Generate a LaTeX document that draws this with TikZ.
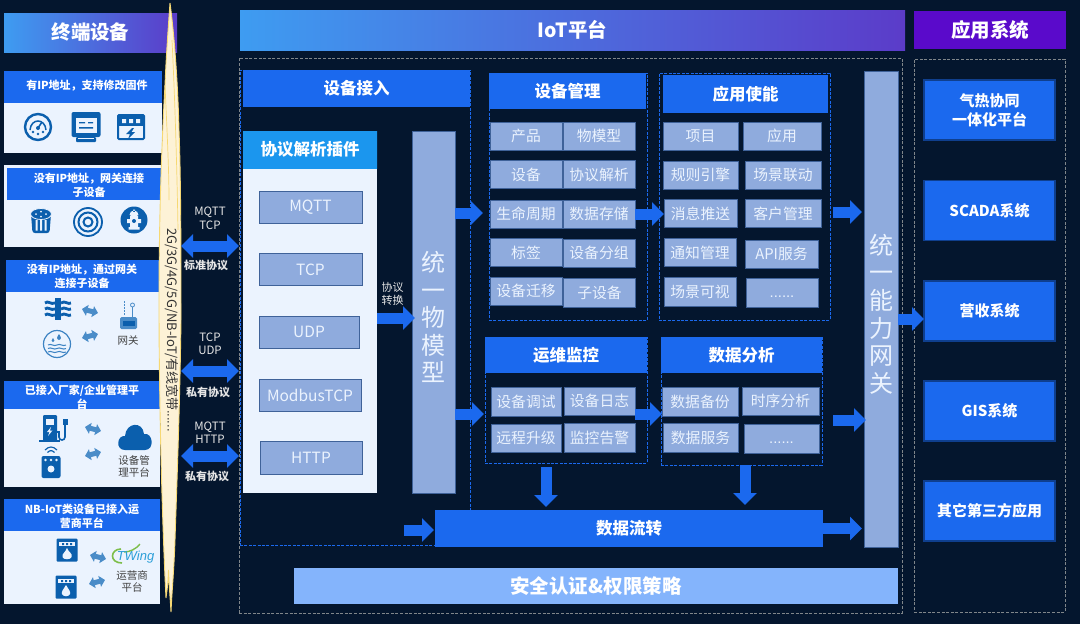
\documentclass[tikz,border=0pt]{standalone}
\usepackage{fontspec}
\usepackage{tikz}
\usetikzlibrary{arrows.meta}
\setmainfont{Noto Sans CJK SC}
\newfontfamily\dotsfont{Liberation Sans}

\definecolor{bgnavy}{HTML}{04162E}
\definecolor{mainblue}{HTML}{1B69EE}
\definecolor{cellblue}{HTML}{8FABDD}
\definecolor{celledge}{HTML}{3F6299}
\definecolor{panelwhite}{HTML}{EBF3FE}
\definecolor{iconblue}{HTML}{0B5FAD}
\definecolor{swapblue}{HTML}{4A8CC8}
\definecolor{framegray}{HTML}{80868A}
\definecolor{bandcream}{HTML}{FDF2D6}
\definecolor{bandedge}{HTML}{F6D873}
\definecolor{gradleft}{HTML}{3E9CF1}
\definecolor{gradright}{HTML}{5B3CC9}
\definecolor{appviolet}{HTML}{5A0ACB}
\definecolor{securityblue}{HTML}{84B4FC}
\definecolor{pluginedge}{HTML}{1B96EE}
\definecolor{pluginmid}{HTML}{12B0FF}
\definecolor{wingteal}{HTML}{2C9FD8}
\definecolor{winggreen}{HTML}{7DBE4A}

\tikzset{
  box/.style={rectangle,inner sep=0pt,outer sep=0pt,align=center},
  headbar/.style={box,fill=mainblue,text=white,font=\fontsize{16.5}{20}\selectfont\bfseries},
  bigtitle/.style={box,text=white,font=\fontsize{19.5}{24}\selectfont\bfseries},
  cellbox/.style={box,fill=cellblue,draw=celledge,line width=0.8pt,text=panelwhite,
    minimum width=72pt,minimum height=28pt,font=\fontsize{14.8}{18}\selectfont},
  pluginbox/.style={cellbox,font=\fontsize{15.5}{18}\selectfont},
  appbox/.style={box,fill=mainblue,draw=mainblue!50!bgnavy,line width=1.2pt,text=white,
    minimum width=131pt,minimum height=60pt,font=\fontsize{15}{19}\selectfont\bfseries},
  tallbox/.style={cellbox,font=\fontsize{24}{27.6}\selectfont},
  grayframe/.style={box,draw=framegray,line width=0.9pt,dash pattern=on 3pt off 1.6pt},
  blueframe/.style={box,draw=mainblue,line width=0.9pt,dash pattern=on 3pt off 1.4pt},
  panelbody/.style={box,fill=panelwhite},
  paneltitle/.style={box,text=white,font=\fontsize{11}{14}\selectfont\bfseries},
  iconlabel/.style={box,text=black!75,font=\fontsize{10.5}{12}\selectfont},
  protolabel/.style={box,text=white!90!black,font=\fontsize{11.5}{13.5}\selectfont},
  protonote/.style={box,text=white!90!black,font=\fontsize{11}{13}\selectfont\bfseries},
  blockarrow/.style={draw=mainblue,line width=11pt,-{Triangle[length=12pt,width=23pt]}},
  dualarrow/.style={draw=mainblue,line width=11pt,{Triangle[length=12pt,width=23pt]}-{Triangle[length=12pt,width=23pt]}},
  swaparrow/.style={draw=swapblue,line width=5pt,{Triangle[length=5.5pt,width=11pt]}-{Triangle[length=5.5pt,width=11pt]}},
  gaugeicon/.pic={
    \draw[iconblue,line width=2.4pt] (0,0) circle (13);
    \draw[iconblue,line width=1.5pt] (-8,3) .. controls (-7,-9) and (7,-9) .. (8,3);
    \draw[iconblue,line width=1.6pt] (0,1) -- (4,-5);
    \fill[iconblue] (0,1) circle (2) (-5,5) circle (1.3) (5,5) circle (1.3) (0,7) circle (1.3);
  },
  metericon/.pic={
    \fill[iconblue,rounded corners=2pt] (-14.5,-15) rectangle (14.5,10);
    \fill[iconblue,rounded corners=1pt] (-10,10) rectangle (10,15);
    \fill[panelwhite] (-10.5,-9) rectangle (10.5,6);
    \fill[iconblue] (-7,-5) rectangle (-1,-3.6) (2,-5) rectangle (7,-3.6) (-7,0) rectangle (7,1.6);
    \fill[panelwhite] (-8,11) rectangle (8,12);
  },
  powericon/.pic={
    \draw[iconblue,line width=2pt,rounded corners=1pt] (-13,-12) rectangle (13,12);
    \fill[iconblue] (-12,-12) rectangle (12,-1);
    \fill[panelwhite] (-9,-8) rectangle (-5,-4) (-2,-8) rectangle (2,-4) (5,-8) rectangle (9,-4);
    \fill[iconblue] (1,1) -- (-5,7) -- (-1,7) -- (-3,12) -- (4,5) -- (0.5,5) -- (3,1) -- cycle;
  },
  drumicon/.pic={
    \fill[iconblue,rounded corners=2.5pt] (-10,-7) -- (-8.5,12) -- (8.5,12) -- (10,-7) -- cycle;
    \fill[panelwhite] (-5.5,-1) rectangle (-3.5,9.5) (-1,-1) rectangle (1,9.5) (3.5,-1) rectangle (5.5,9.5);
    \draw[panelwhite,line width=0.8pt,fill=iconblue] (0,-7) ellipse (10.5 and 5.5);
    \fill[panelwhite] (-5,-7) circle (1) (0,-9.5) circle (1) (5,-7) circle (1) (0,-4.5) circle (1);
  },
  targeticon/.pic={
    \draw[iconblue,line width=1.8pt] (0,0) circle (14);
    \draw[iconblue,line width=2pt] (0,0) circle (9.5);
    \draw[iconblue,line width=2pt] (0,0) circle (4.5);
  },
  hydranticon/.pic={
    \fill[iconblue] (0,0) circle (13.5);
    \fill[panelwhite,rounded corners=1pt] (-4,-5) rectangle (4,8);
    \fill[panelwhite] (-5.5,7) rectangle (5.5,9.5) (-7,-1) rectangle (7,3);
    \fill[panelwhite] (-4.5,-5) arc (180:360:4.5) -- cycle (-1,-10.5) rectangle (1,-8);
    \fill[iconblue] (0,1) circle (2);
  },
  valveicon/.pic={
    \fill[iconblue] (-3,-11) rectangle (3,11);
    \foreach \rowy in {-6,0,6} {
      \draw[iconblue,line width=2.8pt] (-13,\rowy) .. controls (-10,\rowy-3) and (-7,\rowy+2) .. (-3,\rowy);
      \draw[iconblue,line width=2.8pt] (3,\rowy) .. controls (7,\rowy-3) and (10,\rowy+2) .. (13,\rowy);
    }
  },
  watericon/.pic={
    \draw[swapblue!80!iconblue,line width=1.2pt] (0,0) circle (13.5);
    \fill[swapblue!80!iconblue] (2,-10) .. controls (0,-7) and (-1,-5) .. (2,-4) .. controls (5,-5) and (4,-7) .. (2,-10);
    \fill[swapblue!80!iconblue] (-4,-6) .. controls (-6,-4) and (-6,-2) .. (-4,-2) .. controls (-2,-2) and (-2,-4) .. (-4,-6);
    \foreach \rowy in {1,4.5,8} {
      \draw[swapblue!80!iconblue,line width=1pt] (-9,\rowy) .. controls (-6,\rowy-2) and (-3,\rowy+2) .. (0,\rowy) .. controls (3,\rowy-2) and (6,\rowy+2) .. (9,\rowy);
    }
  },
  gatewayicon/.pic={
    \fill[swapblue,rounded corners=1.5pt] (-8.5,-6) rectangle (8.5,6);
    \fill[iconblue] (-6,-2.5) rectangle (6,2.5);
    \draw[swapblue,line width=0.8pt] (4,-6) -- (4,-16) (4,-18) circle (2);
    \draw[swapblue,line width=0.8pt,dash pattern=on 2pt off 1pt] (-4,-8) -- (-4,-22);
  },
  chargericon/.pic={
    \fill[iconblue,rounded corners=1pt] (-10,-13) rectangle (4,13);
    \fill[panelwhite] (-7,-9) rectangle (1,-3);
    \fill[iconblue] (-14,12) rectangle (7,14);
    \fill[panelwhite] (-2,-1) -- (-6,4) -- (-3.5,4) -- (-5,8) -- (-0.5,2.5) -- (-3,2.5) -- cycle;
    \draw[iconblue,line width=1.6pt] (4,4) -- (6,4) -- (6,9) .. controls (6,13) and (12,13) .. (12,9) -- (12,-4);
    \fill[iconblue] (9.5,-9) rectangle (14.5,-3);
  },
  wifiicon/.pic={
    \fill[iconblue,rounded corners=2pt] (-9.5,-9) rectangle (9.5,13);
    \fill[panelwhite] (-5.5,-5) circle (1.3) (0,-5) circle (1.3) (5.5,-5) circle (1.3) (0,4) circle (3.5);
    \draw[iconblue,line width=1.2pt] (-6,-15) .. controls (-2,-19) and (2,-19) .. (6,-15);
    \draw[iconblue,line width=1.2pt] (-3.5,-12.5) .. controls (-1,-15) and (1,-15) .. (3.5,-12.5);
  },
  cloudicon/.pic={
    \fill[iconblue] (-10,12) .. controls (-20,12) and (-18,-3) .. (-10,-2) .. controls (-9,-16) and (8,-17) .. (9,-4)
      .. controls (18,-6) and (20,12) .. (10,12) -- cycle;
  },
  firemeter/.pic={
    \fill[iconblue,rounded corners=1pt] (-10.5,-11.5) rectangle (10.5,11.5);
    \fill[panelwhite] (-8,-8) rectangle (8,-4);
    \fill[iconblue] (-5,-7) rectangle (-3,-5) (-1,-7) rectangle (1,-5) (3,-7) rectangle (5,-5);
    \fill[panelwhite] (0,-2) .. controls (1,2) and (6,3) .. (4.5,7) .. controls (3.5,10) and (-3.5,10) .. (-4.5,7) .. controls (-5.5,4) and (-2,3) .. (0,-2);
  },
  dropmeter/.pic={
    \fill[iconblue,rounded corners=1pt] (-10.5,-11.5) rectangle (10.5,11.5);
    \fill[panelwhite] (-8,-8) rectangle (8,-4);
    \fill[iconblue] (-5,-7) rectangle (-3,-5) (-1,-7) rectangle (1,-5) (3,-7) rectangle (5,-5);
    \fill[panelwhite] (0,-2) .. controls (-3,3) and (-5,5) .. (-4,7) .. controls (-3,10) and (3,10) .. (4,7) .. controls (5,5) and (3,3) .. (0,-2);
  }
}

\begin{document}
\begin{tikzpicture}[x=1pt,y=-1pt]
  \fill[bgnavy] (0,0) rectangle (1080,624);
  \useasboundingbox (0,0) rectangle (1080,624);

  % column headers
  \node[bigtitle,left color=gradleft,right color=gradright,minimum width=173pt,minimum height=39pt] (devicehead) at (90.5,32.5) {终端设备};
  \node[bigtitle,left color=gradleft,right color=gradright,minimum width=665pt,minimum height=40pt] (iothead) at (572.5,30) {IoT平台};
  \node[bigtitle,fill=appviolet,minimum width=152pt,minimum height=38pt] (apphead) at (990,30) {应用系统};

  % terminal panels
  \node[panelbody,minimum width=158pt,minimum height=50pt] (bodya) at (83,128) {};
  \node[box,fill=mainblue,minimum width=158pt,minimum height=32pt] (heada) at (83,87) {};
  \node[paneltitle] (titlea) at (87,86) {有IP地址，支持修改固件};
  \pic at (38,127) {gaugeicon};
  \pic at (86,127) {metericon};
  \pic at (131,127) {powericon};

  \node[panelbody,minimum width=158pt,minimum height=82pt] (bodyb) at (83,206) {};
  \node[box,fill=mainblue,minimum width=155pt,minimum height=32pt] (headb) at (84.5,184) {};
  \node[paneltitle] (titleb) at (89,185) {没有IP地址，网关连接\\子设备};
  \pic at (41,221) {drumicon};
  \pic at (88,222) {targeticon};
  \pic at (134,220) {hydranticon};

  \node[panelbody,minimum width=154pt,minimum height=78pt] (bodyc) at (83,331) {};
  \node[box,fill=mainblue,minimum width=154pt,minimum height=32pt] (headc) at (83,276) {};
  \node[paneltitle] (titlec) at (82,276) {没有IP地址，通过网关\\连接子设备};
  \pic at (58,309) {valveicon};
  \pic at (57,344) {watericon};
  \pic at (128.5,323) {gatewayicon};
  \node[iconlabel] (labelc) at (128,341) {网关};
  \coordinate (swapca) at (82,309);
  \coordinate (swapcb) at (98,313);
  \coordinate (swapcc) at (82,338);
  \coordinate (swapcd) at (98,334);
  \draw[swaparrow] (swapca) -- (swapcb);
  \draw[swaparrow] (swapcc) -- (swapcd);

  \node[panelbody,minimum width=156pt,minimum height=78pt] (bodyd) at (82,448) {};
  \node[box,fill=mainblue,minimum width=156pt,minimum height=28pt] (headd) at (82,395) {};
  \node[paneltitle] (titled) at (82,397) {已接入厂家/企业管理平\\台};
  \pic at (53,428) {chargericon};
  \pic at (51,465) {wifiicon};
  \pic at (135,438) {cloudicon};
  \node[iconlabel] (labeld) at (134,466.5) {设备管\\理平台};
  \coordinate (swapda) at (85,427);
  \coordinate (swapdb) at (101,431);
  \coordinate (swapdc) at (85,456);
  \coordinate (swapdd) at (101,452);
  \draw[swaparrow] (swapda) -- (swapdb);
  \draw[swaparrow] (swapdc) -- (swapdd);

  \node[panelbody,minimum width=156pt,minimum height=73pt] (bodye) at (82,567.5) {};
  \node[box,fill=mainblue,minimum width=156pt,minimum height=32pt] (heade) at (82,515) {};
  \node[paneltitle] (titlee) at (82,516) {NB-IoT类设备已接入运\\营商平台};
  \pic at (67,550) {firemeter};
  \pic at (66,587) {dropmeter};
  \draw[winggreen,line width=1.6pt] (121,549) .. controls (110,549) and (109,563) .. (122,563);
  \draw[winggreen,line width=1.4pt] (124,552) .. controls (130,552) and (136,549) .. (140,544);
  \node[box,text=wingteal,font=\dotsfont\fontsize{13}{15}\selectfont\itshape] (logoe) at (135.5,557) {TWing};
  \node[iconlabel] (labele) at (132,581) {运营商\\平台};
  \coordinate (swapea) at (90,555);
  \coordinate (swapeb) at (106,559);
  \coordinate (swapec) at (89,584);
  \coordinate (swaped) at (105,580);
  \draw[swaparrow] (swapea) -- (swapeb);
  \draw[swaparrow] (swapec) -- (swaped);

  % network band
  \draw[bandedge,fill=bandcream,line width=0.9pt] (170,3) .. controls (175,40) and (178,90) .. (179,130)
    .. controls (181,180) and (181,260) .. (181,320) .. controls (180,400) and (177,480) .. (175,540)
    .. controls (174,570) and (172,590) .. (171,612) .. controls (170,595) and (169,585) .. (168.5,570)
    .. controls (168,585) and (167,590) .. (166,598) .. controls (163,540) and (159,420) .. (159,300)
    .. controls (159,200) and (163,120) .. (165,85) .. controls (166,60) and (168,30) .. (170,3);
  \draw[bandedge,line width=0.7pt] (165,85) .. controls (167,130) and (169,170) .. (169,200);
  \draw[bandedge,line width=0.7pt] (172,40) .. controls (175,100) and (177,170) .. (178,230);
  \node[box,rotate=-90,text=black!80,font=\fontsize{13}{15}\selectfont] (bandtext) at (172,330) {2G/3G/4G/5G/NB-IoT/有线宽带{\dotsfont......}};

  % frames
  \node[grayframe,minimum width=663pt,minimum height=555pt] (iotframe) at (570.5,335.5) {};
  \node[grayframe,minimum width=151pt,minimum height=553pt] (appframe) at (989.5,335.5) {};
  \node[blueframe,minimum width=230pt,minimum height=475pt] (accessframe) at (355,307.5) {};

  % protocols
  \coordinate (bandmqtt) at (181,246);
  \coordinate (bandtcp) at (181,371);
  \coordinate (bandhttp) at (181,456);
  \draw[dualarrow] (bandmqtt) -- (iotframe.west |- bandmqtt);
  \draw[dualarrow] (bandtcp) -- (iotframe.west |- bandtcp);
  \draw[dualarrow] (bandhttp) -- (iotframe.west |- bandhttp);
  \node[protolabel] (protoa) at (210,218.5) {MQTT\\TCP};
  \node[protonote] (notea) at (206,265) {标准协议};
  \node[protolabel] (protob) at (210,344) {TCP\\UDP};
  \node[protonote] (noteb) at (208,392) {私有协议};
  \node[protolabel] (protoc) at (210,432.5) {MQTT\\HTTP};
  \node[protonote] (notec) at (207,476) {私有协议};

  % device access
  \node[headbar,minimum width=227pt,minimum height=37pt] (accesshead) at (356.5,88.5) {设备接入};
  \node[panelbody,minimum width=134pt,minimum height=325pt] (plugin) at (310,330.5) {};
  \node[box,text=white,font=\fontsize{16.5}{20}\selectfont\bfseries,left color=pluginedge,middle color=pluginmid,right color=pluginedge,minimum width=134pt,minimum height=37pt] (pluginhead) at (310,149.5) {协议解析插件};
  \node[pluginbox,minimum width=103pt,minimum height=32pt] (mqtt) at (310.5,207) {MQTT};
  \node[pluginbox,minimum width=103pt,minimum height=32pt] (tcp) at (310.5,269.5) {TCP};
  \node[pluginbox,minimum width=100pt,minimum height=32pt] (udp) at (309,332) {UDP};
  \node[pluginbox,minimum width=102pt,minimum height=32pt] (modbus) at (310,395) {ModbusTCP};
  \node[pluginbox,minimum width=102pt,minimum height=33pt] (http) at (311,457.5) {HTTP};
  \node[tallbox,minimum width=43pt,minimum height=362pt] (umodel) at (433.5,312) {\\[3pt]统\\一\\物\\模\\型};
  \node[box,text=white!90!black,font=\fontsize{11}{13}\selectfont] (convert) at (392.5,293.5) {协议\\转换};

  % device management
  \node[blueframe,minimum width=158pt,minimum height=247pt] (mgmtframe) at (568,196.5) {};
  \node[headbar,minimum width=157pt,minimum height=36pt] (mgmthead) at (567.5,91) {设备管理};
  \node[cellbox] (product) at (526,136) {产品};
  \node[cellbox] (thingmodel) at (599,136) {物模型};
  \node[cellbox] (device) at (526,174.5) {设备};
  \node[cellbox] (protoparse) at (599,174.5) {协议解析};
  \node[cellbox] (lifecycle) at (526,214) {生命周期};
  \node[cellbox] (storage) at (599,214) {数据存储};
  \node[cellbox] (tag) at (526,252.5) {标签};
  \node[cellbox] (devgroup) at (599,253) {设备分组};
  \node[cellbox] (migrate) at (526,291) {设备迁移};
  \node[cellbox,minimum height=29pt] (subdevice) at (599.5,292.5) {子设备};

  % application enablement
  \node[blueframe,minimum width=171pt,minimum height=247pt] (enableframe) at (744.5,196.5) {};
  \node[headbar,minimum width=165pt,minimum height=38pt] (enablehead) at (745.5,94) {应用使能};
  \node[cellbox,minimum width=75pt] (project) at (700.5,136) {项目};
  \node[cellbox,minimum width=78pt] (application) at (782,136) {应用};
  \node[cellbox,minimum width=75pt] (rules) at (700.5,175) {规则引擎};
  \node[cellbox,minimum width=76pt] (linkage) at (783,175) {场景联动};
  \node[cellbox,minimum width=73pt] (pushmsg) at (700.5,213.5) {消息推送};
  \node[cellbox,minimum width=76pt] (customer) at (783,213.5) {客户管理};
  \node[cellbox,minimum width=72pt] (notify) at (700,252.5) {通知管理};
  \node[cellbox,minimum width=73pt] (apiservice) at (781.5,254) {API服务};
  \node[cellbox,minimum width=72pt,minimum height=29pt] (sceneview) at (700,291.5) {场景可视};
  \node[cellbox,minimum width=72pt,minimum height=29pt,font=\dotsfont\fontsize{14.8}{18}\selectfont] (moreenable) at (782,292.5) {\vphantom{H}......};

  % operations monitoring
  \node[blueframe,minimum width=162pt,minimum height=126pt] (opsframe) at (566,400) {};
  \node[headbar,minimum width=162pt,minimum height=36pt] (opshead) at (566,355) {运维监控};
  \node[cellbox,minimum width=70pt,minimum height=29pt] (debug) at (526,401.5) {设备调试};
  \node[cellbox,minimum width=71pt] (devlog) at (599.5,401) {设备日志};
  \node[cellbox,minimum width=70pt] (upgrade) at (526,438) {远程升级};
  \node[cellbox,minimum width=71pt,minimum height=29pt] (alarm) at (599.5,437.5) {监控告警};

  % data analysis
  \node[blueframe,minimum width=161pt,minimum height=128pt] (dataframe) at (741.5,401) {};
  \node[headbar,minimum width=161pt,minimum height=36pt] (datahead) at (741.5,355) {数据分析};
  \node[cellbox,minimum width=76pt,minimum height=29pt] (backup) at (700,401.5) {数据备份};
  \node[cellbox,minimum width=77pt] (timeseries) at (780.5,401) {时序分析};
  \node[cellbox,minimum width=75pt,minimum height=29pt] (dataservice) at (700.5,437.5) {数据服务};
  \node[cellbox,minimum width=75pt,minimum height=29pt,font=\dotsfont\fontsize{14.8}{18}\selectfont] (moredata) at (781.5,438.5) {\vphantom{H}......};

  % bottom bars and gateway
  \node[headbar,minimum width=388pt,minimum height=37pt] (dataflow) at (629,528.5) {数据流转};
  \node[bigtitle,fill=securityblue,minimum width=604pt,minimum height=36pt] (security) at (596,586) {安全认证\&权限策略};
  \node[tallbox,minimum width=34pt,minimum height=476pt] (gateway) at (881,309) {\\[3pt]统\\一\\能\\力\\网\\关};

  % applications
  \node[appbox] (heating) at (989.5,110) {气热协同\\一体化平台};
  \node[appbox] (scada) at (989.5,210.5) {SCADA系统};
  \node[appbox] (revenue) at (989.5,311) {营收系统};
  \node[appbox] (gis) at (989.5,411) {GIS系统};
  \node[appbox] (thirdparty) at (989.5,511) {其它第三方应用};

  % block arrows
  \draw[blockarrow,shorten >=-3pt] (plugin.east |- 0,318) -- (umodel.west |- 0,318);
  \draw[blockarrow,shorten >=6pt] (umodel.east |- 0,213) -- (mgmtframe.west |- 0,213);
  \draw[blockarrow,shorten >=1pt] (umodel.east |- 0,414) -- (opsframe.west |- 0,414);
  \draw[blockarrow] (storage.east) -- (pushmsg.west |- storage.east);
  \draw[blockarrow] (devlog.east |- 0,414) -- (backup.west |- 0,414);
  \draw[blockarrow,shorten <=3pt,shorten >=2pt] (enableframe.east |- 0,212) -- (gateway.west |- 0,212);
  \draw[blockarrow,shorten <=11pt,shorten >=-2pt] (dataframe.east |- 0,420) -- (gateway.west |- 0,420);
  \coordinate (flowin) at (404,530);
  \draw[blockarrow,shorten >=1pt] (flowin) -- (dataflow.west |- flowin);
  \draw[blockarrow,shorten <=4pt,shorten >=3pt] (opsframe.south -| 546,0) -- (dataflow.north -| 546,0);
  \draw[blockarrow,shorten <=0pt,shorten >=5pt] (dataframe.south -| 745,0) -- (dataflow.north -| 745,0);
  \draw[blockarrow,shorten >=2pt] (dataflow.east) -- (gateway.west |- dataflow.east);
  \draw[blockarrow] (gateway.east |- 0,319) -- (revenue.west |- 0,319);
\end{tikzpicture}
\end{document}
